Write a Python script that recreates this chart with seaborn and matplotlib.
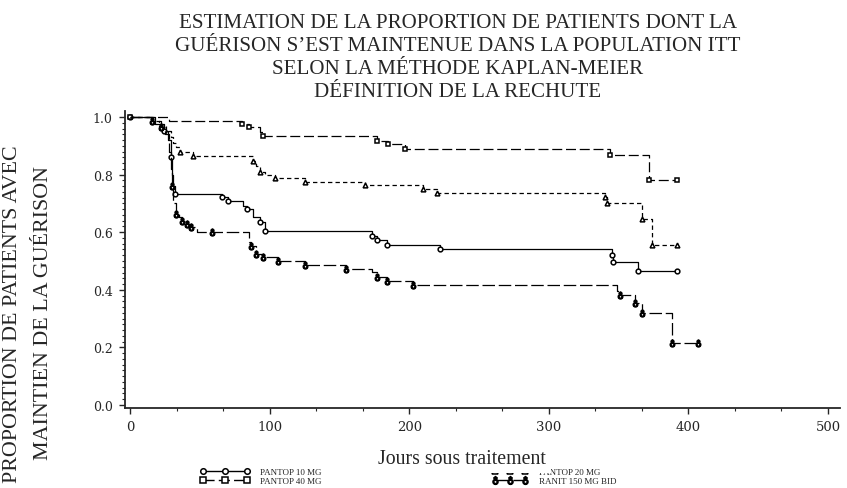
import numpy as np
import pandas as pd
import seaborn as sns
import matplotlib.pyplot as plt
from matplotlib.lines import Line2D

# --- data (Kaplan-Meier step curves) ---
p40_t = [0, 28, 80, 85, 93, 95, 177, 185, 197, 344, 372, 392]
p40_s = [1.0, 0.986, 0.976, 0.965, 0.948, 0.934, 0.917, 0.906, 0.889, 0.868, 0.781, 0.781]
p40_cens = [0, 80, 85, 95, 177, 185, 197, 344, 372, 392]

p20_t = [0, 16, 21, 26, 29, 31, 33, 36, 45, 88, 90, 93, 97, 104, 125, 168,
         210, 220, 340, 342, 367, 374, 392]
p20_s = [1.0, 0.986, 0.969, 0.951, 0.93, 0.91, 0.895, 0.88, 0.866, 0.847, 0.83,
         0.81, 0.80, 0.788, 0.775, 0.764, 0.75, 0.736, 0.722, 0.70, 0.646, 0.556, 0.556]
p20_cens = [36, 45, 88, 93, 104, 125, 168, 210, 220, 340, 342, 367, 374, 392]

p10_t = [0, 18, 24, 27, 29, 30, 31, 32, 66, 70, 81, 84, 88, 93, 97, 173, 177,
         184, 222, 345, 346, 364, 392]
p10_s = [1.0, 0.976, 0.951, 0.92, 0.86, 0.80, 0.76, 0.733, 0.722, 0.708, 0.69,
         0.68, 0.653, 0.636, 0.604, 0.587, 0.573, 0.556, 0.542, 0.521, 0.497, 0.465, 0.465]
p10_cens = [0, 24, 29, 32, 66, 70, 84, 93, 97, 173, 177, 184, 222, 345, 346, 364, 392]

ran_t = [0, 16, 22, 25, 28, 29, 30, 31, 33, 35, 37, 41, 44, 48, 85, 87, 90, 95,
         106, 125, 155, 173, 177, 184, 203, 349, 351, 362, 367, 388, 407]
ran_s = [1.0, 0.986, 0.965, 0.94, 0.88, 0.82, 0.76, 0.70, 0.663, 0.653, 0.639,
         0.628, 0.618, 0.601, 0.566, 0.552, 0.524, 0.514, 0.50, 0.486, 0.472, 0.462,
         0.444, 0.43, 0.417, 0.396, 0.382, 0.354, 0.32, 0.215, 0.215]
ran_cens = [16, 22, 30, 33, 37, 41, 44, 59, 87, 90, 95, 106, 125, 155, 177, 184,
            203, 351, 362, 367, 388, 407]

labels = ['PANTOP 10 MG', 'PANTOP 40 MG', 'PANTOP 20 MG', 'RANIT 150 MG BID']
x_ticks = [0, 100, 200, 300, 400, 500]
y_ticks = [0.0, 0.2, 0.4, 0.6, 0.8, 1.0]

title_lines = ['ESTIMATION DE LA PROPORTION DE PATIENTS DONT LA',
               'GUÉRISON S\u2019EST MAINTENUE DANS LA POPULATION ITT',
               'SELON LA MÉTHODE KAPLAN-MEIER',
               'DÉFINITION DE LA RECHUTE']


def km_value(t, s, c):
    idx = np.searchsorted(t, c, side='right') - 1
    return np.asarray(s)[idx]


def main():
    sns.set_style('ticks')
    plt.rcParams['font.family'] = ['Liberation Serif', 'DejaVu Serif']
    plt.rcParams['mathtext.fontset'] = 'dejavusans'

    fig = plt.figure(figsize=(8.47, 4.89), dpi=100)
    ax = fig.add_axes([125 / 847, 1 - 409 / 489, 715 / 847, 297 / 489])

    groups = [
        (p10_t, p10_s, p10_cens, '-', 'o', 'white'),
        (p40_t, p40_s, p40_cens, (0, (8, 3)), 's', 'white'),
        (p20_t, p20_s, p20_cens, (0, (3.5, 2.5)), '^', 'white'),
        (ran_t, ran_s, ran_cens, (0, (10, 3)), '$\u2641$', 'black'),
    ]
    handles = []
    for (t, s, cens, ls, mk, mfc), lab in zip(groups, labels):
        df = pd.DataFrame({'jours': t, 'surv': s})
        sns.lineplot(data=df, x='jours', y='surv', drawstyle='steps-post',
                     color='black', linewidth=0.9, linestyle=ls, ax=ax)
        cy = km_value(t, s, cens)
        ms = 5 if mk.startswith('$') else 3.4
        ax.plot(cens, cy, linestyle='none', marker=mk, markersize=ms,
                markerfacecolor=mfc, markeredgecolor='black', markeredgewidth=1.1)
        handles.append(Line2D([], [], color='black', linewidth=1.0, linestyle=ls,
                              marker=mk, markersize=ms + 0.6, markerfacecolor=mfc,
                              markeredgecolor='black', markeredgewidth=1.1))

    ax.set_xlim(-3.6, 508.6)
    ax.set_ylim(-0.0104, 1.0208)
    ax.set_xticks(x_ticks)
    ax.set_yticks(y_ticks)
    ax.set_xticks(np.arange(0, 501, 100 / 3), minor=True)
    ax.set_yticks(np.arange(0, 1.001, 0.02), minor=True)
    ax.set_xticklabels([str(v) for v in x_ticks], family='DejaVu Serif', fontsize=9.5)
    ax.set_yticklabels([f'{v:.1f}' for v in y_ticks], family='DejaVu Serif', fontsize=9)
    ax.tick_params(which='major', length=4, width=1, pad=5, direction='out')
    ax.tick_params(which='minor', length=2, width=0.8, direction='out')
    ax.set_xlabel('')
    ax.set_ylabel('')
    sns.despine(ax=ax)
    for sp in ['left', 'bottom']:
        ax.spines[sp].set_linewidth(1.3)

    # title
    for i, line in enumerate(title_lines):
        fig.text(458 / 847, 1 - (28 + 23 * i) / 489, line, ha='center',
                 va='baseline', fontsize=15.1)

    # y label (two lines, rotated)
    fig.text(13 / 847, 1 - 314 / 489, 'PROPORTION DE PATIENTS AVEC', rotation=90,
             ha='center', va='center', fontsize=15.8)
    fig.text(43 / 847, 1 - 313 / 489, 'MAINTIEN DE LA GUÉRISON', rotation=90,
             ha='center', va='center', fontsize=15.8)

    # legend: two blocks at the bottom
    leg_kw = dict(frameon=False, fontsize=6.5, numpoints=3, labelspacing=0.05,
                  handletextpad=1.2, borderpad=0, borderaxespad=0)
    fig.legend(handles[:2], labels[:2], loc='upper left',
               bbox_to_anchor=(200 / 847, 1 - 469 / 489), handlelength=5.5, **leg_kw)
    fig.legend(handles[2:], labels[2:], loc='upper left',
               bbox_to_anchor=(492 / 847, 1 - 469 / 489), handlelength=4.0, **leg_kw)

    # x label drawn over the legend
    fig.text(462 / 847, 1 - 460 / 489, 'Jours sous traitement', ha='center',
             va='center', fontsize=14.3, zorder=20,
             bbox=dict(facecolor='white', edgecolor='none', pad=3.5))

    fig.savefig('out.png', dpi=100)


if __name__ == '__main__':
    main()
